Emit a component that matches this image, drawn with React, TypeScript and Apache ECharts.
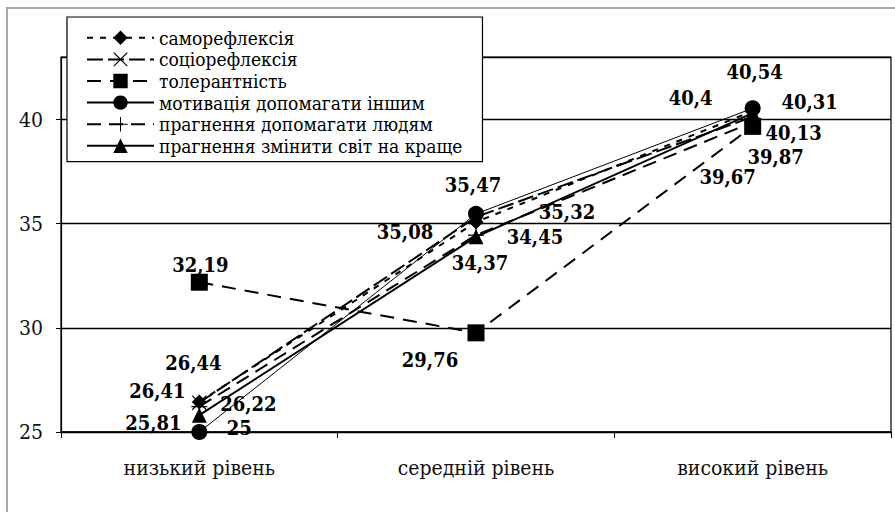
import React, { useEffect, useRef } from "react";
import * as echarts from "echarts";

const categories = ["низький рівень", "середній рівень", "високий рівень"];
const seriesNames = [
  "саморефлексія",
  "соціорефлексія",
  "толерантність",
  "мотивація допомагати іншим",
  "прагнення допомагати людям",
  "прагнення змінити світ на краще",
];
const samorefleksiya = [26.44, 35.08, 40.4];
const sotsiorefleksiya = [26.41, 35.32, 40.13];
const tolerantnist = [32.19, 29.76, 39.67];
const motyvatsiya = [25, 35.47, 40.54];
const dopomahatyLyudyam = [26.22, 34.45, 39.87];
const zminytySvit = [25.81, 34.37, 40.31];
const yTicks = { min: 25, max: 43, interval: 5 };

// label offsets (pixels) relative to each point, per series
const labelOffsets = [
  [[-6, -39], [-71, 10], [-62, -13]],
  [[-42, -12], [91, -5], [41, 16]],
  [[1, -17], [-46, 27], [-25, 51]],
  [[40, -4], [-3, -29], [2, -36]],
  [[49, -3], [59, 2], [23, 35]],
  [[-46, 8], [4, 26], [57, -11]],
];

const X_PATH =
  "path://M0,1.2 L1.2,0 L10,8.8 L18.8,0 L20,1.2 L11.2,10 L20,18.8 L18.8,20 L10,11.2 L1.2,20 L0,18.8 L8.8,10 Z";
const PLUS_PATH =
  "path://M9.3,0 H10.7 V9.3 H20 V10.7 H10.7 V20 H9.3 V10.7 H0 V9.3 H9.3 Z";

const styles = [
  { symbol: "diamond", size: 15, width: 2, type: [6, 7] as any },
  { symbol: X_PATH, size: 15, width: 2, type: [16, 5] as any },
  { symbol: "rect", size: 17, width: 2, type: [14, 9] as any },
  { symbol: "circle", size: 16, width: 1, type: "solid" as any },
  { symbol: PLUS_PATH, size: 16, width: 2, type: [14, 8] as any },
  { symbol: "triangle", size: 15, width: 2, type: "solid" as any },
];

const FONT = "DejaVu Serif Condensed, DejaVu Serif";

export default function App() {
  const ref = useRef<HTMLDivElement>(null);
  useEffect(() => {
    document.body.style.margin = "0";
    const chart = echarts.init(ref.current!, undefined, { renderer: "svg" });
    const allData = [
      samorefleksiya,
      sotsiorefleksiya,
      tolerantnist,
      motyvatsiya,
      dopomahatyLyudyam,
      zminytySvit,
    ];
    const series = allData.map((vals, i) => ({
      name: seriesNames[i],
      type: "line",
      symbol: styles[i].symbol,
      symbolSize: styles[i].size,
      z: 2 + i,
      lineStyle: { color: "#000", width: styles[i].width, type: styles[i].type },
      itemStyle: { color: "#000", borderWidth: 0 },
      data: vals.map((v, j) => ({
        value: v,
        label: { offset: labelOffsets[i][j] },
      })),
      label: {
        show: true,
        position: "inside",
        formatter: (p: any) => String(p.value).replace(".", ","),
        fontFamily: FONT,
        fontWeight: "bold",
        fontSize: 20,
        color: "#000",
      },
      emphasis: { disabled: true },
    }));
    chart.setOption({
      animation: false,
      backgroundColor: "#fff",
      textStyle: { fontFamily: FONT },
      grid: {
        left: 61,
        right: 4,
        top: 57,
        bottom: 80,
        show: true,
        borderColor: "#000",
        borderWidth: 1.2,
        containLabel: false,
      },
      legend: {
        orient: "vertical",
        left: 67,
        top: 17,
        backgroundColor: "#fff",
        borderColor: "#000",
        borderWidth: 1.2,
        borderRadius: 0,
        padding: [10, 20, 5, 19],
        itemGap: 0,
        itemWidth: 67,
        itemHeight: 18,
        data: seriesNames,
        textStyle: {
          fontFamily: FONT,
          fontSize: 19,
          lineHeight: 21.6,
          color: "#000",
        },
      },
      xAxis: {
        type: "category",
        data: categories,
        boundaryGap: true,
        axisLine: { lineStyle: { color: "#000", width: 1.5 } },
        axisTick: { show: true, length: 6, lineStyle: { color: "#000" } },
        axisLabel: {
          fontFamily: FONT,
          fontSize: 21,
          color: "#111",
          margin: 25,
        },
      },
      yAxis: {
        type: "value",
        min: yTicks.min,
        max: yTicks.max,
        interval: yTicks.interval,
        axisLine: { show: true, lineStyle: { color: "#000", width: 1.2 } },
        axisTick: { show: true, length: 5, lineStyle: { color: "#000" } },
        splitLine: { show: true, lineStyle: { color: "#000", width: 1.4 } },
        axisLabel: {
          fontFamily: FONT,
          fontSize: 21,
          color: "#111",
          margin: 18,
          showMaxLabel: false,
        },
      },
      graphic: [
        {
          type: "rect",
          shape: { x: 7, y: 8, width: 920, height: 540 },
          style: { fill: "none", stroke: "#a8a8a8", lineWidth: 2 },
          silent: true,
          z: -1,
        },
      ],
      series,
    });
    return () => chart.dispose();
  }, []);
  return (
    <div
      ref={ref}
      style={{ position: "fixed", left: 0, top: 0, width: 895, height: 512 }}
    />
  );
}
